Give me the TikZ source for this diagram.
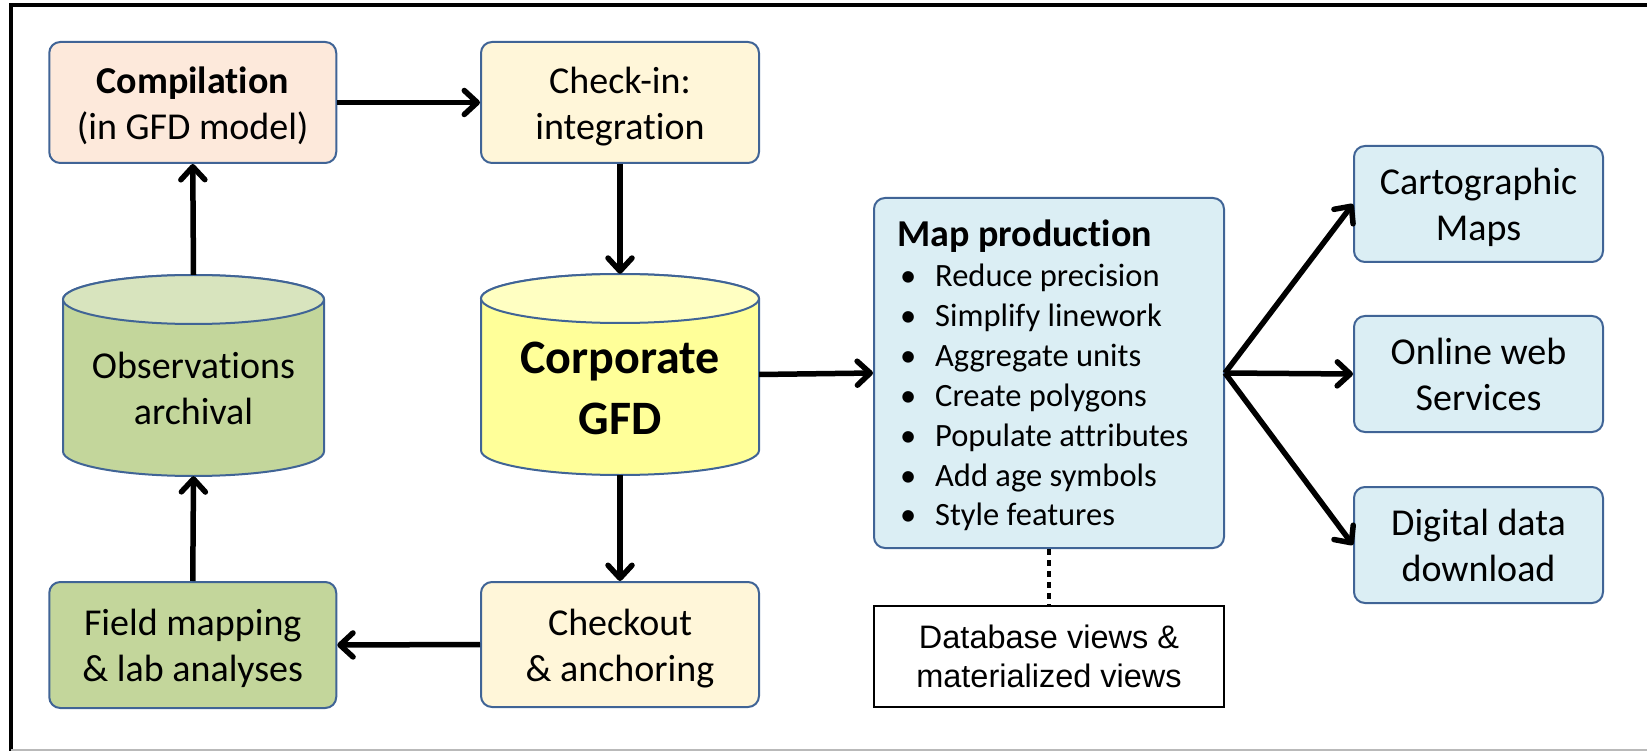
\documentclass[tikz,border=0pt]{standalone}
\usepackage{fontspec}
\setmainfont{Carlito}[Ligatures=NoCommon]
\newfontfamily\arialfont{Liberation Sans}
\usetikzlibrary{arrows.meta}

\definecolor{edgeblue}{RGB}{64,100,150}
\definecolor{peach}{RGB}{253,233,219}
\definecolor{cream}{RGB}{255,246,217}
\definecolor{olivebody}{RGB}{195,214,155}
\definecolor{olivetop}{RGB}{216,228,190}
\definecolor{lemonbody}{RGB}{255,255,153}
\definecolor{lemontop}{RGB}{255,255,194}
\definecolor{skyblue}{RGB}{219,238,244}

\tikzset{
  % fixed height above the last baseline and depth below it, so that
  % every two-line label sits the same way in its box
  evenlines/.style 2 args={execute at begin node={\rule{0pt}{#1}},
    execute at end node={\rule[-#2]{0pt}{0pt}}},
  box/.style={draw=edgeblue, line width=2pt, rounded corners=11pt,
    align=center, inner sep=0pt, font=\fontsize{38}{46}\selectfont,
    evenlines={81.7pt}{8pt}},
  cylnode/.style={draw=none, inner sep=0pt},
  cylshape/.style={draw=edgeblue, line width=2pt},
  boxlabel/.style={align=center, inner sep=0pt, font=\fontsize{38}{46}\selectfont,
    evenlines={81.7pt}{8pt}},
  itemtext/.style={inner sep=0pt, anchor=base west, font=\fontsize{32.5}{40}\selectfont},
  conn/.style={line width=5.5pt, -{Straight Barb[length=13pt,width=24pt,round]}},
  dotconn/.style={line width=4.5pt, dash pattern=on 6pt off 5pt},
}

\begin{document}
\begin{tikzpicture}[x=1pt,y=-1pt]
\useasboundingbox (0,0) rectangle (1647,751);

% page frame
\draw[line width=3.4pt] (10,5) -- (1647,5);
\draw[line width=3.4pt] (11,3.3) -- (11,751);
\draw[gray!55, line width=1.5pt] (11,750) -- (1647,750);

% rounded process boxes
\node[box, fill=peach, minimum width=287pt, minimum height=121pt] (comp) at (192.75,102.5)
  {\textbf{Compilation}\\(in GFD model)};
\node[box, fill=cream, minimum width=278pt, minimum height=121pt] (check) at (620,102.5)
  {Check-in:\\integration};
\node[box, fill=olivebody, minimum width=287pt, minimum height=126pt] (field) at (192.75,645)
  {Field mapping\\\& lab analyses};
\node[box, fill=cream, minimum width=278pt, minimum height=125pt] (checkout) at (620,644.5)
  {Checkout\\\& anchoring};

% cylinder: observations archive
\node[cylnode, minimum width=261pt, minimum height=201pt] (obs) at (193.5,375.5) {};
\path[cylshape, fill=olivebody] (63,299.5) -- (63,451.5)
  arc[start angle=180, end angle=360, x radius=130.5pt, y radius=24.5pt]
  -- (324,299.5)
  arc[start angle=0, end angle=180, x radius=130.5pt, y radius=24.5pt] -- cycle;
\draw[cylshape, fill=olivetop] (193.5,299.5) ellipse[x radius=130.5pt, y radius=24.5pt];
\node[boxlabel] (obstext) at (193.5,387.6) {Observations\\archival};

% cylinder: corporate database
\node[cylnode, minimum width=278pt, minimum height=201pt] (gfd) at (620,374.5) {};
\path[cylshape, fill=lemonbody] (481,298.5) -- (481,450.5)
  arc[start angle=180, end angle=360, x radius=139pt, y radius=24.5pt]
  -- (759,298.5)
  arc[start angle=0, end angle=180, x radius=139pt, y radius=24.5pt] -- cycle;
\draw[cylshape, fill=lemontop] (620,298.5) ellipse[x radius=139pt, y radius=24.5pt];
\node[boxlabel, font=\bfseries\fontsize{48}{61}\selectfont, evenlines={105.7pt}{10.5pt}]
  (gfdtext) at (620,386.9) {Corporate\\GFD};

% map production box with its task list
\node[box, fill=skyblue, minimum width=350pt, minimum height=350pt, evenlines={0pt}{0pt}] (map) at (1049,373) {};
\node[inner sep=0pt, anchor=base west, font=\bfseries\fontsize{38}{46}\selectfont] (maphead) at (897,247)
  {Map production};
\foreach \t [count=\i] in {Reduce precision, Simplify linework, Aggregate units,
    Create polygons, Populate attributes, Add age symbols, Style features}
  \node[itemtext] (item\i) at (900,247+39.85*\i) {\makebox[35pt][l]{\textbullet}\t};

% product boxes
\node[box, fill=skyblue, minimum width=249pt, minimum height=116pt, evenlines={80.2pt}{9.5pt}] (cart) at (1478.5,204)
  {Cartographic\\Maps};
\node[box, fill=skyblue, minimum width=249pt, minimum height=116pt, evenlines={80.2pt}{9.5pt}] (online) at (1478.5,374)
  {Online web\\Services};
\node[box, fill=skyblue, minimum width=249pt, minimum height=116pt, evenlines={80.2pt}{9.5pt}] (digital) at (1478.5,545)
  {Digital data\\download};

% database views
\node[draw=black, line width=1.5pt, fill=white, minimum width=350pt, minimum height=101pt,
  align=center, inner sep=0pt, font=\arialfont\fontsize{32.5}{39}\selectfont] (dbv) at (1049,656.5)
  {Database views \&\\materialized views};

% connectors
\draw[conn] (comp.east) -- (check.west);
\draw[conn] (check.south) -- (gfd.north);
\draw[conn] (gfd.south) -- (checkout.north);
\draw[conn] (checkout.west) -- (field.east);
\draw[conn] (field.north) -- (obs.south);
\draw[conn] (obs.north) -- (comp.south);
\draw[conn] (gfd.east) -- (map.west);
\draw[conn] (map.east) -- (cart.west);
\draw[conn] (map.east) -- (online.west);
\draw[conn] (map.east) -- (digital.west);
\draw[dotconn] (map.south) -- (dbv.north);
\end{tikzpicture}
\end{document}
